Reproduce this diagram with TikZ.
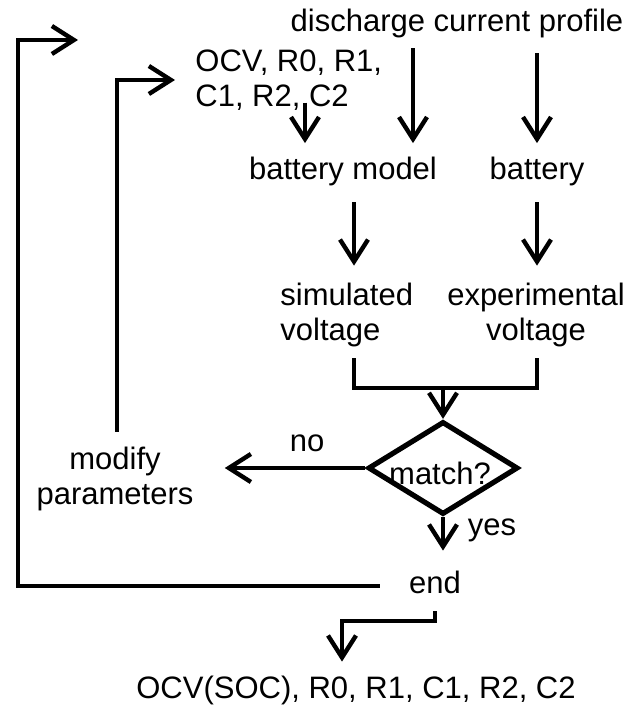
\documentclass[tikz,border=0pt]{standalone}
\usepackage{fontspec}
\setmainfont{Liberation Sans}
\usetikzlibrary{arrows.meta,shapes.geometric}
\begin{document}
\begin{tikzpicture}[
  x=0.5pt, y=-0.5pt,
  txt/.style={font=\fontsize{15.5}{17.5}\selectfont, inner sep=0pt},
  lbl/.style={txt, text height=11pt, text depth=3.5pt},
  arr/.style={line width=2.2pt, -{Straight Barb[length=11pt,width=14pt]}},
  ln/.style={line width=2.2pt},
  decision/.style={draw, diamond, line width=2.6pt, minimum width=75pt, minimum height=46.5pt, inner sep=0pt}
]
\useasboundingbox (0,0) rectangle (629,716);

\node[lbl] (profile) at (457,24) {discharge current profile};
\node[txt, anchor=west, align=left] (params) at (195,80) {OCV, R0, R1,\\C1, R2, C2};
\node[lbl] (model) at (343,172) {battery model};
\node[lbl] (battery) at (537,172) {battery};
\node[txt, anchor=west, align=left] (simv) at (280,315) {simulated\\voltage};
\node[txt, align=center] (expv) at (536,315) {experimental\\voltage};
\node[decision] (match) at (443,468) {};
\node[lbl] (matchtxt) at (440,477) {match?};
\node[lbl] (nolbl) at (307,444) {no};
\node[txt, align=center] (modify) at (115,479) {modify\\parameters};
\node[lbl] (yeslbl) at (492,528) {yes};
\node[lbl] (finish) at (435,586) {end};
\node[lbl] (result) at (356,691) {OCV(SOC), R0, R1, C1, R2, C2};
\coordinate (merge) at (443,388);
\coordinate (restart) at (78,40);

\draw[arr, shorten <=-4pt, shorten >=7pt] (params.south -| 305,0) -- (model.north -| 305,0);
\draw[arr, shorten <=4.75pt, shorten >=7pt] (profile.south -| 413,0) -- (model.north -| 413,0);
\draw[arr, shorten <=7.25pt, shorten >=7pt] (profile.south -| battery.north) -- (battery.north);
\draw[arr, shorten <=7.75pt, shorten >=8.5pt] (model.south -| 354,0) -- (simv.north -| 354,0);
\draw[arr, shorten <=7.75pt, shorten >=8.5pt] (battery.south) -- (battery.south |- expv.north);
\draw[ln, shorten <=5.5pt, shorten >=5.5pt] (simv.south -| 354,0) |- (merge) -| (expv.south -| 537,0);
\draw[arr] (merge) -- (match.north);
\draw[arr, shorten >=15.5pt] (match.west) -- (match.west -| modify.east);
\draw[arr, shorten <=7.5pt, shorten >=10pt] (modify.north -| 117,0) |- (params.west);
\draw[arr, shorten >=10.25pt] (match.south) -- (finish.north -| match.south);
\draw[arr, shorten <=14.5pt] (finish.west) -- ++(-391,0) |- (restart);
\draw[arr, shorten <=5.25pt, shorten >=7.25pt] (finish.south) -- ++(0,20) -| (result.north -| 342,0);
\end{tikzpicture}
\end{document}
